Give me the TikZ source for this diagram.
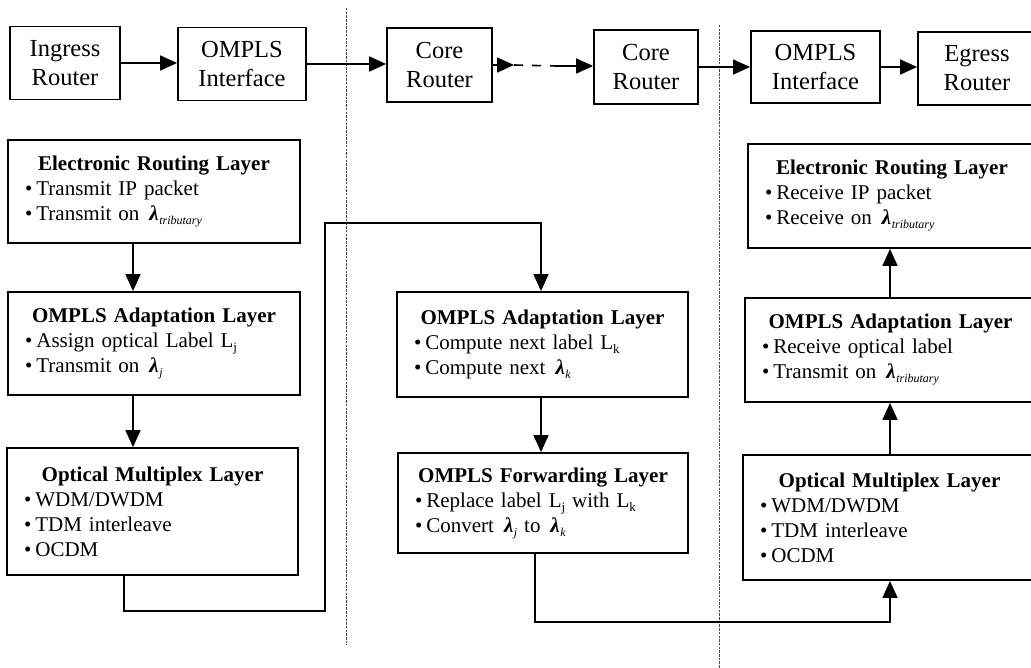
\documentclass[tikz,border=0pt]{standalone}
\usepackage{fontspec}
\setmainfont{Liberation Serif}
\usetikzlibrary{arrows.meta}
\newcommand\lam[1]{\kern3pt{\bfseries\itshape λ}\kern0.5pt\raisebox{-4pt}{\fontsize{12}{12}\selectfont\itshape #1}}
\newcommand\lsub[1]{\raisebox{-4pt}{\fontsize{13}{13}\selectfont #1}}
\newcommand\itm{\textbullet\kern4pt}
\newcommand\ttl[1]{\hfill\textbf{#1}\hfill\null}
\begin{document}
\begin{tikzpicture}[x=1pt,y=-1pt,
  topbox/.style={draw, line width=1.8pt, inner sep=0pt, align=center,
    font=\fontsize{24.5}{29}\selectfont},
  layer/.style={draw, line width=1.8pt, inner xsep=17pt, inner ysep=0pt, align=left,
    font=\fontsize{21}{25}\selectfont},
  conn/.style={line width=1.6pt, -{Triangle[length=17pt,width=15pt]}},
  plainline/.style={line width=1.6pt},
  divider/.style={line width=1pt, black!70, dash pattern=on 2.5pt off 1.2pt}]
\useasboundingbox (0,0) rectangle (1031,668);
\clip (0,0) rectangle (1031,668);
% dividers
\coordinate (d1a) at (346,8);  \coordinate (d1b) at (346,645);
\coordinate (d2a) at (719,25); \coordinate (d2b) at (719,668);
\draw[divider] (d1a) -- (d1b);
\draw[divider] (d2a) -- (d2b);
% top row
\node[topbox, minimum width=110, minimum height=73] (ingress) at (65,63) {Ingress\\Router};
\node[topbox, minimum width=128, minimum height=73] (omi1) at (242,64) {OMPLS\\Interface};
\node[topbox, minimum width=105, minimum height=74] (core1) at (439.5,65) {Core\\Router};
\node[topbox, minimum width=104, minimum height=74] (core2) at (646,67) {Core\\Router};
\node[topbox, minimum width=129, minimum height=72] (omi2) at (815.5,67) {OMPLS\\Interface};
\node[topbox, minimum width=118, minimum height=73] (egress) at (977,68.5) {Egress\\Router};
\draw[conn] (ingress.east) -- (ingress.east -| omi1.west);
\draw[conn] (omi1.east) -- (omi1.east -| core1.west);
\coordinate (t1) at (514,65);
\coordinate (t2) at (556,66);
\draw[conn] (core1.east) -- (t1);
\draw[plainline, dash pattern=on 9pt off 9pt] (t1) -- (t2);
\draw[conn] (t2) -- (t2 -| core2.west);
\draw[conn] (core2.east) -- (core2.east -| omi2.west);
\draw[conn] (omi2.east) -- (omi2.east -| egress.west);
% left column
\node[layer, text width=258, minimum height=103] (lerl) at (154,191.5)
  {\ttl{Electronic Routing Layer}\\ \itm Transmit IP packet\\ \itm Transmit on \lam{tributary}};
\node[layer, text width=258, minimum height=103] (ladapt) at (154,343.5)
  {\ttl{OMPLS Adaptation Layer}\\ \itm Assign optical Label L\lsub{j}\\ \itm Transmit on \lam{j}};
\node[layer, text width=257, minimum height=127] (lopt) at (152.5,511.5)
  {\ttl{Optical Multiplex Layer}\\ \itm WDM/DWDM\\ \itm TDM interleave\\ \itm OCDM};
% middle column
\node[layer, text width=257, minimum height=105] (madapt) at (542.5,344.5)
  {\ttl{OMPLS Adaptation Layer}\\ \itm Compute next label L\lsub{k}\\ \itm Compute next \lam{k}};
\node[layer, text width=256, minimum height=100] (mfwd) at (543,503)
  {\ttl{OMPLS Forwarding Layer}\\ \itm Replace label L\lsub{j} with L\lsub{k}\\ \itm Convert \lam{j} to \lam{k}};
% right column
\node[layer, text width=254, minimum height=104] (rerl) at (892,196)
  {\ttl{Electronic Routing Layer}\\ \itm Receive IP packet\\ \itm Receive on \lam{tributary}};
\node[layer, text width=257, minimum height=104] (radapt) at (890.5,350)
  {\ttl{OMPLS Adaptation Layer}\\ \itm Receive optical label\\ \itm Transmit on \lam{tributary}};
\node[layer, text width=259, minimum height=125] (ropt) at (889.5,517.5)
  {\ttl{Optical Multiplex Layer}\\ \itm WDM/DWDM\\ \itm TDM interleave\\ \itm OCDM};
% vertical arrows
\coordinate (xl) at (133,0);
\coordinate (xm) at (541,0);
\coordinate (xr) at (890,0);
\draw[conn] (lerl.south -| xl) -- (ladapt.north -| xl);
\draw[conn] (ladapt.south -| xl) -- (lopt.north -| xl);
\draw[conn] (madapt.south -| xm) -- (mfwd.north -| xm);
\draw[conn] (ropt.north -| xr) -- (radapt.south -| xr);
\draw[conn] (radapt.north -| xr) -- (rerl.south -| xr);
% long connectors
\coordinate (j1) at (124,611);
\coordinate (j2) at (325,611);
\coordinate (j3) at (325,223);
\coordinate (j4) at (541,223);
\draw[conn] (lopt.south -| j1) -- (j1) -- (j2) -- (j3) -- (j4) -- (madapt.north -| j4);
\coordinate (k1) at (535,622);
\coordinate (k2) at (890,622);
\draw[conn] (mfwd.south -| k1) -- (k1) -- (k2) -- (ropt.south -| k2);
\end{tikzpicture}
\end{document}
